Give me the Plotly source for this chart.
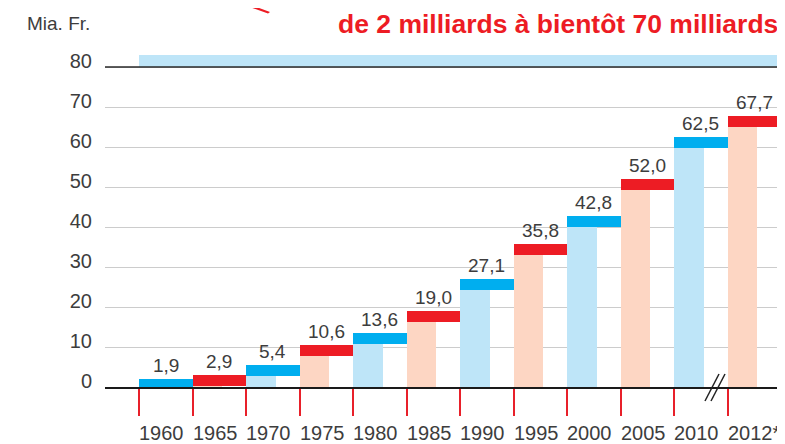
import plotly.graph_objects as go

# ---- data ----
years = ["1960", "1965", "1970", "1975", "1980", "1985", "1990", "1995",
         "2000", "2005", "2010", "2012*"]
values = [1.9, 2.9, 5.4, 10.6, 13.6, 19.0, 27.1, 35.8, 42.8, 52.0, 62.5, 67.7]
y_ticks = [0, 10, 20, 30, 40, 50, 60, 70, 80]
title_text = "de 2 milliards à bientôt 70 milliards"
unit_text = "Mia. Fr."

# ---- style ----
OFF = 8                     # page body margin in the browser
W, H = 785 - OFF, 444 - OFF
ML, MR = 105 - OFF, 0
MT = 47 - OFF
MB = H - (387 - OFF)
FONT = "Liberation Sans"
TXT = "#3d3d3d"
CAP_BLUE, CAP_RED = "#00AEEF", "#ED1C24"
BODY_BLUE, BODY_RED = "#BEE5F8", "#FDD6C3"
CAP_H = 2.75          # cap thickness in value units
BODY_W = 0.56         # body width as share of a category
Y0, Y1 = 0, 85
PH = H - MT - MB
PW = W - ML - MR
X0 = -34 / 53.5
X1 = X0 + PW / 53.5

n = len(values)
idx = list(range(n))
cap_base = [max(0.0, v - CAP_H) for v in values]
cap_len = [v - b for v, b in zip(values, cap_base)]
cap_col = [CAP_BLUE if i % 2 == 0 else CAP_RED for i in idx]
body_col = [BODY_BLUE if i % 2 == 0 else BODY_RED for i in idx]


def px(xp):
    """window pixel x -> paper"""
    return (xp - OFF - ML) / PW


def py(yp):
    """window pixel y -> paper"""
    return (H - MB - (yp - OFF)) / PH


fig = go.Figure()
# light body bars (left part of each category)
fig.add_trace(go.Bar(x=[i + BODY_W / 2 for i in idx], y=cap_base, base=0,
                     width=BODY_W, marker=dict(color=body_col, line_width=0),
                     hoverinfo="skip"))
# coloured caps spanning full category
fig.add_trace(go.Bar(x=[i + 0.5 for i in idx], y=cap_len, base=cap_base,
                     width=1.0, marker=dict(color=cap_col, line_width=0),
                     hoverinfo="skip"))

# value labels
for i, v in enumerate(values):
    fig.add_annotation(x=i + 0.5, y=v, text=f"{v:.1f}".replace(".", ","),
                       showarrow=False, yanchor="bottom", yshift=1,
                       font=dict(family=FONT, size=19, color=TXT))
# category labels, left-aligned on red ticks
for i, yr in enumerate(years):
    fig.add_annotation(x=i, y=py(433), yref="paper", text=yr,
                       showarrow=False, xanchor="left", yanchor="middle",
                       xshift=-2,
                       font=dict(family=FONT, size=20, color=TXT))

# title & unit
fig.add_annotation(x=px(780), y=py(24), xref="paper", yref="paper",
                   text=title_text, showarrow=False, xanchor="right",
                   yanchor="middle",
                   font=dict(family=FONT, size=26.5, color=CAP_RED,
                             weight="bold"))
fig.add_annotation(x=px(92), y=py(23), xref="paper", yref="paper",
                   text=unit_text, showarrow=False, xanchor="right",
                   yanchor="middle",
                   font=dict(family=FONT, size=19, color=TXT))

shapes = []
# light blue band above 80 line
shapes.append(dict(type="rect", xref="x", yref="y", x0=0, x1=n, y0=80, y1=83,
                   fillcolor=BODY_BLUE, line_width=0, layer="below"))
# dark 80 line
shapes.append(dict(type="line", xref="paper", yref="y", x0=0, x1=px(781),
                   y0=80, y1=80, line=dict(color="#2a2a2a", width=1.5)))
# red decorative stroke at top
shapes.append(dict(type="path", xref="paper", yref="paper",
                   path=f"M {px(224)} {py(-2)} L {px(232)} {py(-2)} "
                        f"L {px(270)} {py(12)} L {px(268)} {py(13.5)} Z",
                   fillcolor=CAP_RED, line_width=0))
# axis break marks //
for dx in (0, 6):
    shapes.append(dict(type="line", xref="paper", yref="paper",
                       x0=px(705 + dx), y0=py(401), x1=px(719 + dx), y1=py(374),
                       line=dict(color="#222", width=1.5)))
fig.update_layout(shapes=shapes)

fig.update_layout(
    width=W, height=H, margin=dict(l=ML, r=MR, t=MT, b=MB),
    paper_bgcolor="white", plot_bgcolor="white",
    barmode="overlay", bargap=0, showlegend=False,
    font=dict(family=FONT, color=TXT),
    xaxis=dict(range=[X0, X1], showgrid=False, zeroline=False,
               showline=True, linecolor="#1a1a1a", linewidth=2,
               ticks="outside", tickvals=list(range(n + 1)), ticklen=27,
               tickcolor="#E8202A", tickwidth=1.5, showticklabels=False),
    yaxis=dict(range=[Y0, Y1], tickvals=y_ticks, showgrid=True,
               gridcolor="#cccccc", gridwidth=1, zeroline=False,
               showline=False, ticks="", ticklabelshift=-6,
               ticklabelstandoff=12,
               tickfont=dict(family=FONT, size=20, color=TXT)),
)

fig.write_html("out.html")
